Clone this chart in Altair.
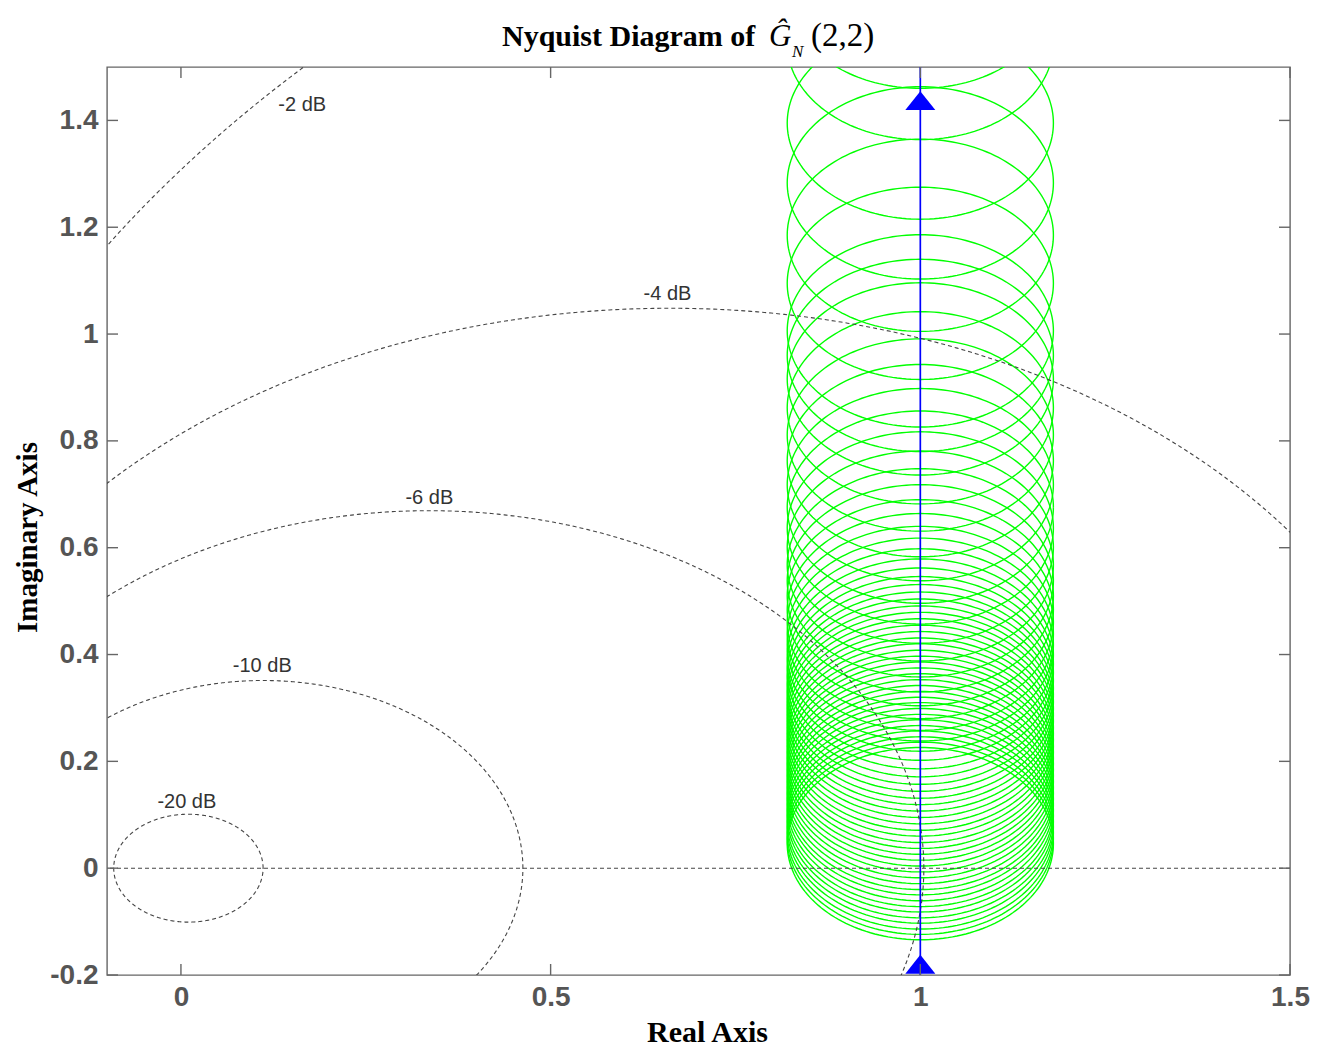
import altair as alt
import numpy as np
import pandas as pd

# ---- axes -------------------------------------------------------------
X_DOMAIN = [-0.1, 1.5]
Y_DOMAIN = [-0.2, 1.5]
x_ticks = [0, 0.5, 1, 1.5]
y_ticks = [-0.2, 0, 0.2, 0.4, 0.6, 0.8, 1, 1.2, 1.4]

# ---- constant closed-loop magnitude contours --------------------------
m_db = [-2, -4, -6, -10, -20]
m_label = ["-2 dB", "-4 dB", "-6 dB", "-10 dB", "-20 dB"]
m_label_x = [0.164, 0.658, 0.336, 0.110, 0.008]
m_label_y = [1.429, 1.075, 0.693, 0.378, 0.124]

# ---- estimated response: loops around the nominal line ----------------
loop_radius = 0.18
loop_center_re = 1.0
loop_center_im = [
    0.046, 0.056, 0.066, 0.077, 0.087, 0.098, 0.108, 0.119, 0.130, 0.140,
    0.151, 0.162, 0.173, 0.184, 0.195, 0.206, 0.217, 0.228, 0.240, 0.251,
    0.263, 0.275, 0.287, 0.299, 0.311, 0.324, 0.337, 0.351, 0.366, 0.382,
    0.399, 0.418, 0.438, 0.460, 0.484, 0.510, 0.538, 0.568, 0.601, 0.637,
    0.676, 0.718, 0.763, 0.811, 0.862, 0.916, 0.960, 1.006, 1.095, 1.185,
    1.283, 1.395, 1.544, 1.640,
]

# ---- nominal response (vertical line Re = 1) --------------------------
nominal_re = 1.0
arrow_im = [-0.18, 1.437]

# ---- plot geometry (pixels) -------------------------------------------
W, H = 1183, 908
PAD = dict(left=107, top=67, right=33, bottom=71)
TICK = 11
FRAME = "#666666"
GRID = "#454545"

# ---- tables -----------------------------------------------------------
theta = np.linspace(0, 2 * np.pi, 181)
loops = pd.DataFrame(
    [
        dict(k=k, i=i,
             x=loop_center_re + loop_radius * np.cos(t),
             y=c + loop_radius * np.sin(t))
        for k, c in enumerate(loop_center_im)
        for i, t in enumerate(theta)
    ]
)

theta_m = np.linspace(0, 2 * np.pi, 1441)
m_rows = []
for db in m_db:
    mag = 10 ** (db / 20)
    c = mag ** 2 / (1 - mag ** 2)
    r = mag / (1 - mag ** 2)
    for i, t in enumerate(theta_m):
        m_rows.append(dict(db=db, i=i, x=c + r * np.cos(t), y=r * np.sin(t)))
mcircles = pd.DataFrame(m_rows)
mlabels = pd.DataFrame(dict(text=m_label, x=m_label_x, y=m_label_y))

xs = alt.Scale(domain=X_DOMAIN, nice=False, zero=False)
ys = alt.Scale(domain=Y_DOMAIN, nice=False, zero=False)

x_axis = alt.Axis(
    values=x_ticks, labelExpr="'' + datum.value", ticks=False, domain=False, grid=False,
    labelFont="Liberation Sans", labelFontSize=28, labelFontWeight="bold", labelColor="#555555",
    labelPadding=8, labelFlush=False,
    title="Real Axis", titleFont="Liberation Serif", titleFontSize=30, titleFontWeight="bold",
    titleColor="#000000", titleX=600, titleY=66, titleAlign="center", titleBaseline="alphabetic",
)
y_axis = alt.Axis(
    values=y_ticks, labelExpr="'' + datum.value", ticks=False, domain=False, grid=False,
    labelFont="Liberation Sans", labelFontSize=28, labelFontWeight="bold", labelColor="#555555",
    labelPadding=9, labelFlush=False,
    title="Imaginary Axis", titleFont="Liberation Serif", titleFontSize=29, titleFontWeight="bold",
    titleColor="#000000", titleX=-80, titleY=470, titleAngle=270, titleAlign="center",
    titleBaseline="middle",
)
X = alt.X("x:Q", scale=xs, axis=x_axis)
Y = alt.Y("y:Q", scale=ys, axis=y_axis)

green = alt.Chart(loops).mark_line(color="#00ff00", strokeWidth=1.4, clip=True).encode(
    x=X, y=Y, detail="k:N", order="i:Q"
)

grid_circles = alt.Chart(mcircles).mark_line(
    color=GRID, strokeWidth=1.1, strokeDash=[4, 3], clip=True
).encode(x=X, y=Y, detail="db:N", order="i:Q")

real_axis = alt.Chart(pd.DataFrame(dict(y=[0.0]))).mark_rule(
    color=GRID, strokeWidth=1.1, strokeDash=[4, 3]
).encode(y=Y)

grid_text = alt.Chart(mlabels).mark_text(
    font="Liberation Sans", fontSize=20, color="#333333", baseline="middle", align="center"
).encode(x=X, y=Y, text="text:N")

blue = alt.Chart(pd.DataFrame(dict(x=[nominal_re]))).mark_rule(
    color="#0000ff", strokeWidth=1.7
).encode(x=X)

arrows = alt.Chart(pd.DataFrame(dict(x=[nominal_re] * 2, y=arrow_im))).mark_point(
    shape="M-1,0.63L1,0.63L0,-0.63Z", filled=True, size=900, color="#0000ff", opacity=1
).encode(x=X, y=Y)

tdf_y = pd.DataFrame(dict(y=y_ticks))
tdf_x = pd.DataFrame(dict(x=x_ticks))
tick_style = dict(color=FRAME, strokeWidth=1.4)
ticks = [
    alt.Chart(tdf_y).mark_rule(**tick_style).encode(y=Y, x=alt.value(0), x2=alt.value(TICK)),
    alt.Chart(tdf_y).mark_rule(**tick_style).encode(y=Y, x=alt.value(W - TICK), x2=alt.value(W)),
    alt.Chart(tdf_x).mark_rule(**tick_style).encode(x=X, y=alt.value(H), y2=alt.value(H - TICK)),
    alt.Chart(tdf_x).mark_rule(**tick_style).encode(x=X, y=alt.value(0), y2=alt.value(TICK)),
]

# title pieces: "Nyquist Diagram of  Ĝ_N(2,2)"
title_parts = [
    ("Nyquist Diagram of", 395, -21, 30, "bold", "normal"),
    ("Ĝ", 662, -21, 31, "normal", "italic"),
    ("N", 685, -10, 17, "normal", "italic"),
    ("(2,2)", 704, -21, 33, "normal", "normal"),
]
title_layers = [
    alt.Chart(pd.DataFrame(dict(t=[txt]))).mark_text(
        font="Liberation Serif", fontSize=fs, fontWeight=fw, fontStyle=st,
        align="left", baseline="alphabetic", color="#000000",
    ).encode(text="t:N", x=alt.value(px), y=alt.value(py))
    for txt, px, py, fs, fw, st in title_parts
]

chart = alt.layer(
    green, grid_circles, real_axis, blue, arrows, grid_text, *ticks, *title_layers
).properties(
    width=W, height=H, autosize="none", padding=PAD, background="#ffffff"
).configure_view(stroke=FRAME, strokeWidth=1.4)

chart.save("out.html", embed_options={"renderer": "svg", "actions": False})
